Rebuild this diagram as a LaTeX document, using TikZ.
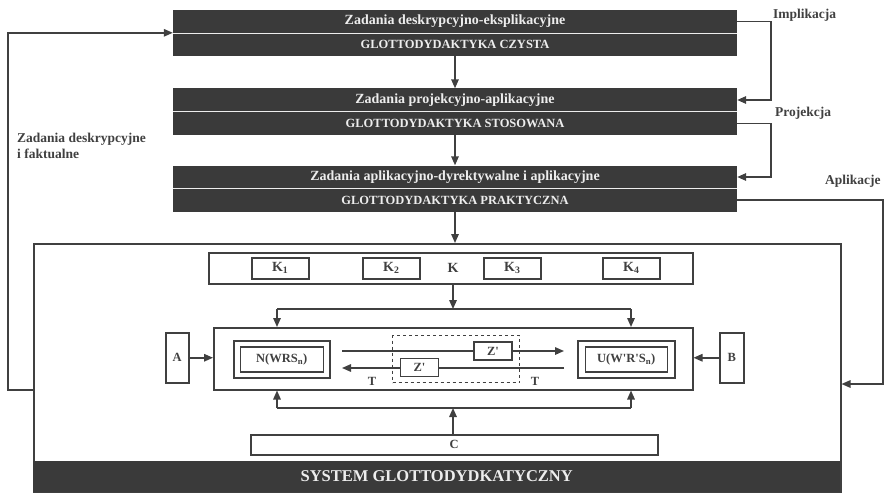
\documentclass[tikz,border=0pt]{standalone}
\usepackage{fontspec}
\setmainfont{Liberation Serif}
\usetikzlibrary{arrows.meta}
\definecolor{dk}{HTML}{3A3A3A}
\definecolor{ln}{HTML}{404040}
\definecolor{lt}{HTML}{EDEDED}
\begin{document}
\begin{tikzpicture}[x=1pt,y=-1pt,
  every node/.style={font=\bfseries\fontsize{12.5}{14}\selectfont, text=ln},
  darkbox/.style={fill=dk, minimum width=564pt, minimum height=23pt, inner sep=0pt, text=lt, font=\bfseries\fontsize{14}{15}\selectfont},
  darkcap/.style={darkbox, font=\bfseries\fontsize{12.5}{14}\selectfont},
  line/.style={draw=ln, line width=1.5pt},
  arr/.style={line, -{Triangle[length=9pt,width=7.5pt]}},
  wbox/.style={draw=ln, line width=1.5pt, fill=white, inner sep=0pt},
  kbox/.style={wbox, minimum width=57pt, minimum height=21pt, anchor=north west, font=\bfseries\fontsize{14}{16}\selectfont},
  zbox/.style={wbox, minimum width=38pt, minimum height=18pt},
  lbl/.style={font=\bfseries\fontsize{13.5}{15.5}\selectfont, text=ln, inner sep=0pt, align=left}
]
\useasboundingbox (0,0) rectangle (885,492);
% top dark boxes
\node[darkbox] (b1t) at (455,21.5) {Zadania deskrypcyjno-eksplikacyjne};
\node[darkcap] (b1b) at (455,44.5) {GLOTTODYDAKTYKA CZYSTA};
\node[darkbox] (b2t) at (455,100) {Zadania projekcyjno-aplikacyjne};
\node[darkcap] (b2b) at (455,123.5) {GLOTTODYDAKTYKA STOSOWANA};
\node[darkbox] (b3t) at (455,177) {Zadania aplikacyjno-dyrektywalne i aplikacyjne};
\node[darkcap] (b3b) at (455,200) {GLOTTODYDAKTYKA PRAKTYCZNA};
\foreach \b in {b1t,b2t,b3t} \draw[lt, line width=1pt] (\b.south west) -- (\b.south east);
% outer system box
\node[wbox, minimum width=807pt, minimum height=249pt, anchor=north west] (outer) at (33,243) {};
\node[fill=dk, minimum width=807pt, minimum height=31pt, anchor=south west, inner sep=0pt, text=lt, font=\bfseries\fontsize{16.5}{18}\selectfont] (sys) at (33,492) {SYSTEM GLOTTODYDKATYCZNY};
% arrows between top boxes
\draw[arr] (b1b.south) -- (b2t.north);
\draw[arr] (b2b.south) -- (b3t.north);
\draw[arr] (b3b.south) -- (b3b.south |- outer.north);
% side connectors
\draw[arr] (b1t.east) -- ++(34,0) |- (b2t.east);
\draw[arr] (b2b.east) -- ++(34,0) |- (b3t.east);
\coordinate (apl) at (883,384);
\draw[arr] (b3b.east) -| (apl) -- (outer.east |- apl);
\coordinate (lft) at (8,390);
\draw[arr] (outer.west |- lft) -- (lft) |- (b1b.north west);
% labels
\node[lbl, anchor=west] (limp) at (773,15) {Implikacja};
\node[lbl, anchor=west] (lpro) at (775,113) {Projekcja};
\node[lbl, anchor=west] (lapl) at (825,181) {Aplikacje};
\node[lbl, anchor=west] (lzad) at (17,146) {Zadania deskrypcyjne\\i faktualne};
% K bar
\node[wbox, minimum width=484pt, minimum height=31pt, anchor=north west] (kbar) at (208,252) {};
\node[kbox] (k1) at (251,257) {K\textsubscript{1}};
\node[kbox] (k2) at (362,257) {K\textsubscript{2}};
\node[kbox] (k3) at (483,257) {K\textsubscript{3}};
\node[kbox] (k4) at (602,257) {K\textsubscript{4}};
\node[font=\bfseries\fontsize{14}{16}\selectfont] (klab) at (453,268) {K};
% middle box
\node[wbox, minimum width=479pt, minimum height=62pt, anchor=north west] (mid) at (213,327) {};
\coordinate (st) at (453,309);
\coordinate (tl) at (277,309);
\coordinate (tr) at (631,309);
\draw[arr] (kbar.south -| st) -- (st);
\draw[line] (tl) -- (tr);
\draw[arr] (tl) -- (tl |- mid.north);
\draw[arr] (tr) -- (tr |- mid.north);
% C box
\node[wbox, minimum width=407pt, minimum height=20pt, anchor=north west] (cbox) at (250,434) {C};
\coordinate (sb) at (453,408);
\coordinate (bl) at (277,408);
\coordinate (br) at (631,408);
\draw[line] (bl) -- (br);
\draw[arr] (bl) -- (bl |- mid.south);
\draw[arr] (br) -- (br |- mid.south);
\draw[arr] (cbox.north -| sb) -- (sb);
% A and B
\node[wbox, minimum width=23pt, minimum height=50pt, anchor=north west] (A) at (165,332) {A};
\node[wbox, minimum width=24pt, minimum height=50pt, anchor=north west] (B) at (719,332) {B};
\draw[arr] (A.east) -- (A.east -| mid.west);
\draw[arr] (B.west) -- (B.west -| mid.east);
% N and U
\node[wbox, minimum width=96pt, minimum height=37pt, anchor=north west] (Nout) at (233,340) {};
\node[wbox, minimum width=83pt, minimum height=25pt] (N) at (Nout.center) {N(WRS\textsubscript{n})};
\node[wbox, minimum width=97pt, minimum height=37pt, anchor=north west] (Uout) at (577,340) {};
\node[wbox, minimum width=82pt, minimum height=25pt] (U) at (Uout.center) {U(W\textquotesingle R\textquotesingle S\textsubscript{n})};
% dashed zone
\node[draw=ln, line width=1.2pt, dashed, minimum width=127pt, minimum height=47pt, anchor=north west, inner sep=0pt] (dz) at (392,335) {};
\coordinate (a1) at (342,351);
\coordinate (a2) at (564,351);
\coordinate (c1) at (564,368);
\coordinate (c2) at (342,368);
\draw[arr] (a1) -- (a2);
\draw[arr] (c1) -- (c2);
\node[zbox] (z1) at (493,351) {Z\textquotesingle};
\node[zbox] (z2) at (419.5,367.5) {Z\textquotesingle};
\node (t1) at (372,381) {T};
\node (t2) at (535,381) {T};
\end{tikzpicture}
\end{document}
